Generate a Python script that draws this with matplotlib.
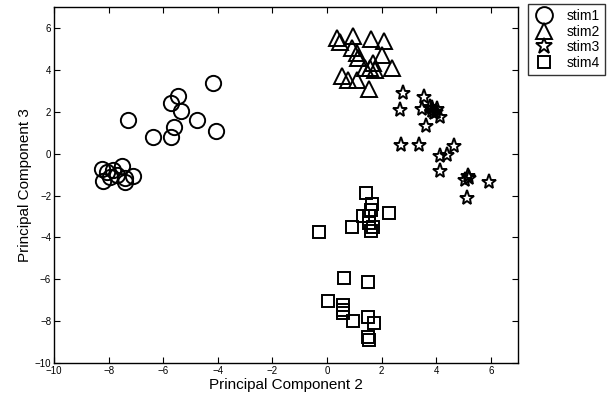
import matplotlib
matplotlib.use("Agg")
import matplotlib.pyplot as plt

plt.rcParams['font.family'] = ['Liberation Sans', 'DejaVu Sans']

# stim1 (circles)
stim1_x = [-4.18, -5.46, -5.71, -5.35, -4.76, -7.29, -4.07, -5.60, -6.37, -5.71,
           -8.24, -8.21, -7.84, -7.51, -7.69, -7.40, -7.11, -7.40, -7.95, -8.06]
stim1_y = [3.37, 2.75, 2.42, 2.04, 1.61, 1.61, 1.08, 1.27, 0.79, 0.79,
           -0.73, -1.31, -0.78, -0.59, -1.02, -1.16, -1.07, -1.35, -1.12, -0.88]

# stim2 (triangles)
stim2_x = [0.36, 0.48, 0.96, 1.61, 2.10, 0.90, 1.09, 1.15, 2.00, 1.70,
           1.58, 1.76, 2.37, 0.54, 0.78, 1.09, 1.55, 1.39]
stim2_y = [5.51, 5.35, 5.62, 5.46, 5.39, 5.03, 4.79, 4.55, 4.71, 4.31,
           4.08, 3.99, 4.08, 3.71, 3.52, 3.52, 3.07, 4.08]

# stim3 (stars)
stim3_x = [2.79, 3.56, 2.67, 3.47, 3.84, 4.02, 3.92, 4.14, 3.63, 2.70, 3.36,
           4.66, 4.14, 4.41, 4.14, 5.15, 5.21, 5.05, 5.95, 5.14, 3.77, 4.00, 3.85]
stim3_y = [2.91, 2.72, 2.08, 2.12, 2.17, 2.12, 1.96, 1.76, 1.32, 0.41, 0.41,
           0.36, -0.11, -0.06, -0.81, -1.07, -1.18, -1.26, -1.37, -2.13, 2.22, 2.00, 2.05]

# stim4 (squares)
stim4_x = [1.42, 1.66, 1.60, 2.28, 1.31, 1.54, 1.55, 0.93, 1.70, 1.60, -0.30,
           0.62, 1.49, 0.03, 0.60, 0.60, 0.60, 0.96, 1.51, 1.73, 1.49, 1.54]
stim4_y = [-1.89, -2.40, -2.69, -2.85, -2.98, -2.98, -3.33, -3.52, -3.52, -3.68, -3.74,
           -5.95, -6.11, -7.04, -7.23, -7.47, -7.62, -7.99, -7.82, -8.07, -8.74, -8.90]

fig = plt.figure(figsize=(6.16, 3.96), dpi=100)
ax = fig.add_axes([0.0877, 0.0833, 0.7533, 0.8987])

kw = dict(linestyle='none', color='black', markerfacecolor='none', markeredgewidth=1.4)
ax.plot(stim1_x, stim1_y, marker='o', markersize=11, label='stim1', **kw)
ax.plot(stim2_x, stim2_y, marker='^', markersize=11, label='stim2', **kw)
ax.plot(stim3_x, stim3_y, marker='*', markersize=11, label='stim3', **kw)
ax.plot(stim4_x, stim4_y, marker='s', markersize=8.5, label='stim4', **kw)

ax.set_xlim(-10, 7)
ax.set_ylim(-10, 7)
ax.set_xticks(range(-10, 7, 2))
ax.set_yticks(range(-10, 7, 2))
ax.tick_params(direction='in', top=True, right=True, labelsize=7, length=4, pad=2)
for s in ax.spines.values():
    s.set_linewidth(1.0)

ax.set_xlabel('Principal Component 2', fontsize=11, labelpad=1.5)
ax.set_ylabel('Principal Component 3', fontsize=11, labelpad=2)

leg = ax.legend(loc='upper left', bbox_to_anchor=(1.0216, 1.0084), borderaxespad=0,
                fancybox=False, edgecolor='black', fontsize=10, handlelength=1.6,
                handletextpad=0.85, labelspacing=0.12, borderpad=0.35, markerscale=1.1)
leg.get_frame().set_linewidth(1.0)

fig.savefig('out.png', dpi=100)
